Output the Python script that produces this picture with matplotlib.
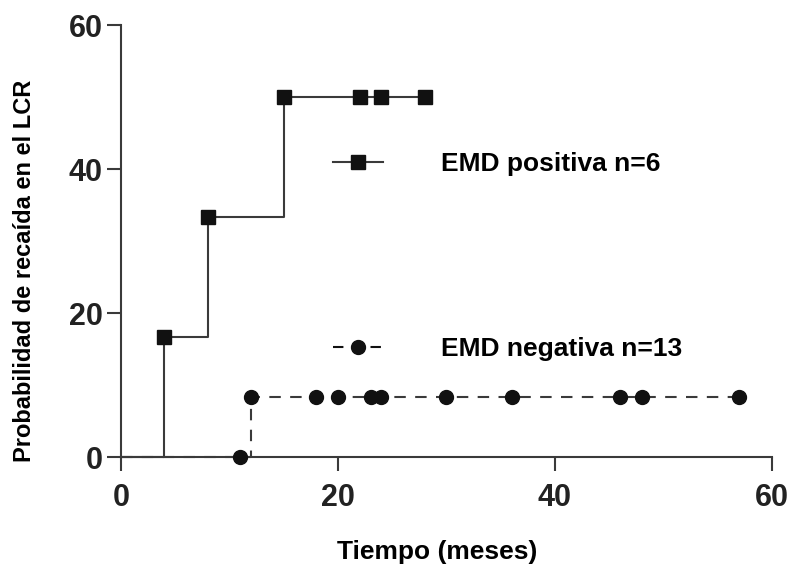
import matplotlib
matplotlib.use("Agg")
import matplotlib.pyplot as plt

plt.rcParams['font.family'] = ['Liberation Sans', 'DejaVu Sans']
plt.rcParams['font.weight'] = 'bold'

# EMD positiva: step curve + points
pos_step_t = [0, 4, 8, 15, 28]
pos_step_y = [0, 16.67, 33.33, 50, 50]
pos_pts_t = [4, 8, 15, 22, 24, 28]
pos_pts_y = [16.67, 33.33, 50, 50, 50, 50]

# EMD negativa: step curve + points
neg_step_t = [0, 12, 57]
neg_step_y = [0, 8.33, 8.33]
neg_pts_t = [11, 12, 18, 20, 23, 24, 30, 36, 46, 48, 57]
neg_pts_y = [0, 8.33, 8.33, 8.33, 8.33, 8.33, 8.33, 8.33, 8.33, 8.33, 8.33]

x_ticks = [0, 20, 40, 60]
y_ticks = [0, 20, 40, 60]

line_col = '#3a3a3a'

fig = plt.figure(figsize=(7.92, 5.72), dpi=100)
ax = fig.add_axes([0.1528, 0.201, 0.8219, 0.755])

ax.step(pos_step_t, pos_step_y, where='post', color=line_col, lw=1.5, clip_on=False)
ax.plot(pos_pts_t, pos_pts_y, 's', color='#111111', ms=10, clip_on=False, zorder=3)
ax.plot([], [], '-s', color=line_col, mfc='#111111', mec='#111111', ms=10, lw=1.5,
        label='EMD positiva n=6')

ax.step(neg_step_t, neg_step_y, where='post', color=line_col, lw=1.5,
        dashes=(5.5, 4.5), clip_on=False)
ax.plot(neg_pts_t, neg_pts_y, 'o', color='#111111', ms=10, clip_on=False, zorder=3)
ax.plot([], [], 'o', color='#111111', ls=(0, (5, 4)), ms=10, lw=1.5,
        label='EMD negativa n=13')

ax.set_xlim(0, 60)
ax.set_ylim(0, 60)
ax.set_xticks(x_ticks)
ax.set_yticks(y_ticks)
ax.spines['top'].set_visible(False)
ax.spines['right'].set_visible(False)
for s in ['left', 'bottom']:
    ax.spines[s].set_color(line_col)
    ax.spines[s].set_linewidth(1.5)
ax.tick_params(direction='out', length=10, width=1.5, color=line_col, labelsize=22)
ax.tick_params(axis='y', pad=3)
ax.tick_params(axis='x', pad=9)
for lab in ax.get_xticklabels() + ax.get_yticklabels():
    lab.set_fontweight('bold')
    lab.set_color('#222222')

ax.set_xlabel('Tiempo (meses)', fontsize=19, fontweight='bold')
ax.xaxis.set_label_coords(0.485, -0.193)
ax.set_ylabel('Probabilidad de recaída en el LCR', fontsize=17, fontweight='bold')
ax.yaxis.set_label_coords(-0.13, 0.43)

leg = ax.legend(loc='upper left', bbox_to_anchor=(0.326, 0.706), frameon=False,
                fontsize=19, handlelength=1.9, handletextpad=2.2, labelspacing=6.1,
                borderpad=0, borderaxespad=0)
for t in leg.get_texts():
    t.set_fontweight('bold')

fig.savefig('out.png', dpi=100)
